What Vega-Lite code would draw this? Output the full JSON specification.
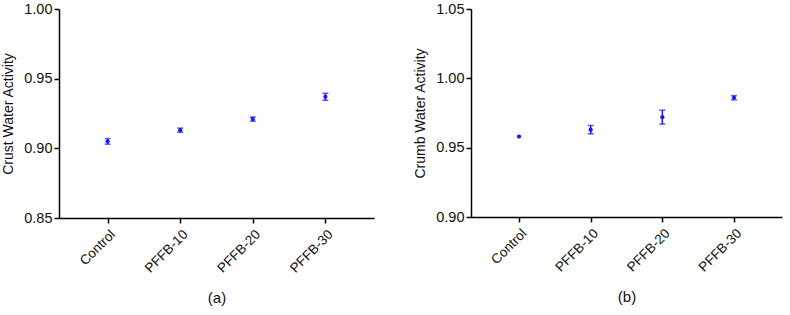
{
  "$schema": "https://vega.github.io/schema/vega-lite/v6.json",
  "padding": {"left": 1, "top": 1, "right": 10, "bottom": 5},
  "background": "white",
  "config": {
    "view": {"stroke": null},
    "font": "Liberation Sans",
    "axis": {"domainColor": "black", "tickColor": "black", "labelColor": "#111", "titleColor": "#111", "grid": false, "domainWidth": 1.5, "tickWidth": 1.5, "labelFont": "Liberation Sans", "titleFont": "Liberation Sans", "titleFontWeight": "normal"},
    "concat": {"spacing": 39}
  },
  "datasets": {
    "crust": [
      {"group": "Control", "mean": 0.905, "lo": 0.903, "hi": 0.907},
      {"group": "PFFB-10", "mean": 0.913, "lo": 0.9115, "hi": 0.9145},
      {"group": "PFFB-20", "mean": 0.921, "lo": 0.9195, "hi": 0.9225},
      {"group": "PFFB-30", "mean": 0.937, "lo": 0.9345, "hi": 0.9395}
    ],
    "crumb": [
      {"group": "Control", "mean": 0.958, "lo": 0.958, "hi": 0.958},
      {"group": "PFFB-10", "mean": 0.963, "lo": 0.960, "hi": 0.966},
      {"group": "PFFB-20", "mean": 0.972, "lo": 0.967, "hi": 0.977},
      {"group": "PFFB-30", "mean": 0.986, "lo": 0.9845, "hi": 0.9875}
    ]
  },
  "hconcat": [
    {
      "width": 315,
      "height": 209,
      "data": {"name": "crust"},
      "encoding": {
        "x": {"field": "group", "type": "nominal", "sort": null, "scale": {"type": "point", "padding": 0.67},
          "axis": {"title": "(a)", "labelAngle": -45, "labelFontSize": 13.5, "titleFontSize": 15, "tickSize": 5, "labelPadding": 4, "titlePadding": 16}}
      },
      "layer": [
        {"mark": {"type": "rule", "color": "#1a1aee", "strokeWidth": 1.5},
         "encoding": {"y": {"field": "lo", "type": "quantitative", "scale": {"domain": [0.85, 1.0], "nice": false, "zero": false},
            "axis": {"title": "Crust Water Activity", "values": [0.85, 0.9, 0.95, 1.0], "format": ".2f", "labelFontSize": 14.5, "titleFontSize": 14, "tickSize": 5, "labelPadding": 2, "titlePadding": 8}},
           "y2": {"field": "hi"}}},
        {"mark": {"type": "tick", "color": "#1a1aee", "size": 6, "thickness": 1.5}, "encoding": {"y": {"field": "lo", "type": "quantitative"}}},
        {"mark": {"type": "tick", "color": "#1a1aee", "size": 6, "thickness": 1.5}, "encoding": {"y": {"field": "hi", "type": "quantitative"}}},
        {"mark": {"type": "point", "filled": true, "color": "#1a1aee", "size": 18, "opacity": 1}, "encoding": {"y": {"field": "mean", "type": "quantitative"}}}
      ]
    },
    {
      "width": 311,
      "height": 208,
      "data": {"name": "crumb"},
      "encoding": {
        "x": {"field": "group", "type": "nominal", "sort": null, "scale": {"type": "point", "padding": 0.67},
          "axis": {"title": "(b)", "labelAngle": -45, "labelFontSize": 13.5, "titleFontSize": 15, "tickSize": 5, "labelPadding": 4, "titlePadding": 16}}
      },
      "layer": [
        {"mark": {"type": "rule", "color": "#1a1aee", "strokeWidth": 1.5},
         "encoding": {"y": {"field": "lo", "type": "quantitative", "scale": {"domain": [0.9, 1.05], "nice": false, "zero": false},
            "axis": {"title": "Crumb Water Activity", "values": [0.9, 0.95, 1.0, 1.05], "format": ".2f", "labelFontSize": 14.5, "titleFontSize": 14, "tickSize": 5, "labelPadding": 2, "titlePadding": 8}},
           "y2": {"field": "hi"}}},
        {"mark": {"type": "tick", "color": "#1a1aee", "size": 6, "thickness": 1.5}, "transform": [{"filter": "datum.hi > datum.lo"}], "encoding": {"y": {"field": "lo", "type": "quantitative"}}},
        {"mark": {"type": "tick", "color": "#1a1aee", "size": 6, "thickness": 1.5}, "transform": [{"filter": "datum.hi > datum.lo"}], "encoding": {"y": {"field": "hi", "type": "quantitative"}}},
        {"mark": {"type": "point", "filled": true, "color": "#1a1aee", "size": 18, "opacity": 1}, "encoding": {"y": {"field": "mean", "type": "quantitative"}}}
      ]
    }
  ]
}
